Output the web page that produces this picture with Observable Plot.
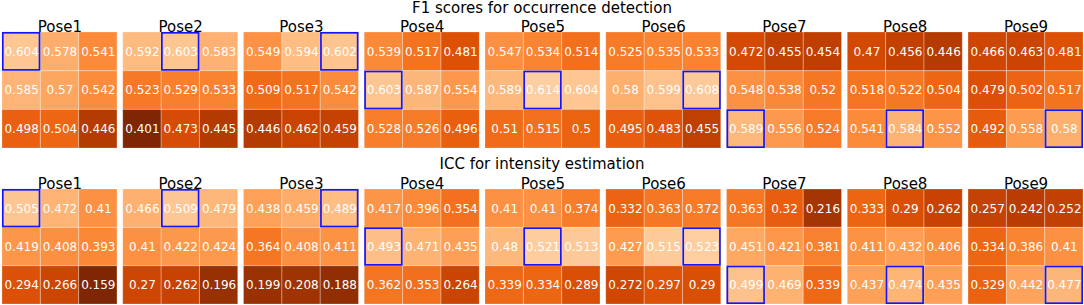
<!DOCTYPE html>
<html>
<head>
<meta charset="utf-8">
<script src="https://cdn.jsdelivr.net/npm/d3@7"></script>
<script src="https://cdn.jsdelivr.net/npm/@observablehq/plot@0.6"></script>
<style>
  html, body { margin: 0; padding: 0; background: white; }
  #wrap { width: 1084px; height: 305px; overflow: hidden; font-family: "DejaVu Sans", sans-serif; }
  .rowtitle { height: 15px; line-height: 15px; font-size: 15px; text-align: center; color: black; white-space: nowrap; }
  #t1 { line-height: 17.6px; }
  svg { display: block; }
</style>
</head>
<body>
<div id="wrap">
  <div class="rowtitle" id="t1">F1 scores for occurrence detection</div>
  <div id="p1"></div>
  <div class="rowtitle" id="t2" style="margin-top:7px">ICC for intensity estimation</div>
  <div id="p2"></div>
</div>
<script>
const poses = ["Pose1", "Pose2", "Pose3", "Pose4", "Pose5", "Pose6", "Pose7", "Pose8", "Pose9"];

// 3x3 grids, row-major, one per pose
const f1Scores = [
  [0.604, 0.578, 0.541, 0.585, 0.57, 0.542, 0.498, 0.504, 0.446],
  [0.592, 0.603, 0.583, 0.523, 0.529, 0.533, 0.401, 0.473, 0.445],
  [0.549, 0.594, 0.602, 0.509, 0.517, 0.542, 0.446, 0.462, 0.459],
  [0.539, 0.517, 0.481, 0.603, 0.587, 0.554, 0.528, 0.526, 0.496],
  [0.547, 0.534, 0.514, 0.589, 0.614, 0.604, 0.51, 0.515, 0.5],
  [0.525, 0.535, 0.533, 0.58, 0.599, 0.608, 0.495, 0.483, 0.455],
  [0.472, 0.455, 0.454, 0.548, 0.538, 0.52, 0.589, 0.556, 0.524],
  [0.47, 0.456, 0.446, 0.518, 0.522, 0.504, 0.541, 0.584, 0.552],
  [0.466, 0.463, 0.481, 0.479, 0.502, 0.517, 0.492, 0.558, 0.58]
];

const iccScores = [
  [0.505, 0.472, 0.41, 0.419, 0.408, 0.393, 0.294, 0.266, 0.159],
  [0.466, 0.509, 0.479, 0.41, 0.422, 0.424, 0.27, 0.262, 0.196],
  [0.438, 0.459, 0.489, 0.364, 0.408, 0.411, 0.199, 0.208, 0.188],
  [0.417, 0.396, 0.354, 0.493, 0.471, 0.435, 0.362, 0.353, 0.264],
  [0.41, 0.41, 0.374, 0.48, 0.521, 0.513, 0.339, 0.334, 0.289],
  [0.332, 0.363, 0.372, 0.427, 0.515, 0.523, 0.272, 0.297, 0.29],
  [0.363, 0.32, 0.216, 0.451, 0.421, 0.381, 0.499, 0.469, 0.339],
  [0.333, 0.29, 0.262, 0.411, 0.432, 0.406, 0.437, 0.474, 0.435],
  [0.257, 0.242, 0.252, 0.334, 0.386, 0.41, 0.329, 0.442, 0.477]
];

function tidy(scores) {
  return scores.flatMap((vals, p) => vals.map((v, i) => ({
    pose: poses[p], row: Math.floor(i / 3), col: i % 3, value: v, best: i === p
  })));
}

function heatRow(scores, domain, height, marginBottom) {
  const data = tidy(scores);
  return Plot.plot({
    width: 1084,
    height,
    marginTop: 17,
    marginBottom,
    marginLeft: 2,
    marginRight: 1,
    style: { fontFamily: "DejaVu Sans", background: "white", color: "black" },
    fx: { domain: poses, paddingInner: 0.048, paddingOuter: 0, axis: null, round: false, label: null },
    x: { domain: [0, 1, 2], padding: 0, axis: null, round: false },
    y: { domain: [0, 1, 2], padding: 0, axis: null, round: false },
    color: { type: "linear", scheme: "oranges", reverse: true, domain },
    marks: [
      Plot.cell(data, { fx: "pose", x: "col", y: "row", fill: "value" }),
      Plot.cell(data, { fx: "pose", x: "col", y: "row", fill: "none", stroke: "white", strokeOpacity: 0.22, strokeWidth: 1 }),
      Plot.cell(data.filter(d => d.best), { fx: "pose", x: "col", y: "row", fill: "none", stroke: "#1414ff", strokeWidth: 1.7, inset: 0.8 }),
      Plot.text(data, { fx: "pose", x: "col", y: "row", text: d => String(d.value), fill: "white", fontSize: 12 }),
      Plot.text(poses, { fx: d => d, text: d => d, frameAnchor: "top", lineAnchor: "bottom", dy: -1, fontSize: 15, fill: "black" })
    ]
  });
}

document.getElementById("p1").appendChild(heatRow(f1Scores, [0.401, 0.685], 135, 2));
document.getElementById("p2").appendChild(heatRow(iccScores, [0.159, 0.644], 133, 1));
</script>
</body>
</html>
